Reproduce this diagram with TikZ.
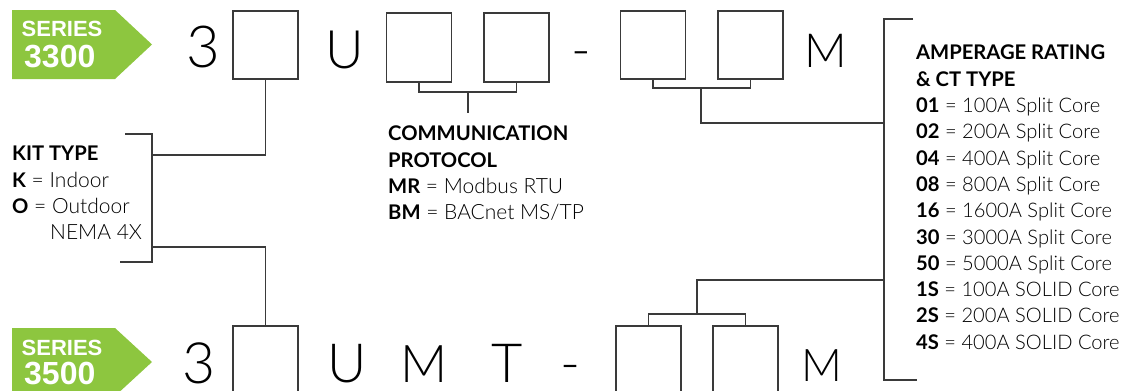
\documentclass[tikz,border=0pt]{standalone}
\usepackage{fontspec}
\setmainfont{Lato Light}[BoldFont=Lato Bold]
\newfontfamily\badgefont{Liberation Sans}
\definecolor{badgegreen}{HTML}{8DC63F}
\definecolor{linegray}{HTML}{3A3A3A}
\newcommand\kb[1]{{\fontsize{20.2}{26.3}\selectfont\bfseries #1}}
\begin{document}
\begin{tikzpicture}[x=1pt,y=-1pt,
  codebox/.style={draw=linegray,line width=1.3pt,minimum width=65pt,minimum height=68pt,inner sep=0pt},
  conn/.style={draw=linegray,line width=1.4pt},
  bigchar/.style={anchor=base west,inner sep=0pt,font=\fontsize{#1}{#1}\selectfont},
  legend/.style={anchor=north west,inner sep=0pt,align=left,font=\fontsize{#1}{26.3}\selectfont,text=black},
  legend/.default=21,
  badgetxt/.style={anchor=north west,inner sep=0pt,text=white,font=\badgefont\bfseries\fontsize{#1}{#1}\selectfont}
]
\useasboundingbox (0,0) rectangle (1125,391);
% badges
\fill[badgegreen] (12,10) -- (115,10) -- (152,44.5) -- (115,79) -- (12,79) -- cycle;
\fill[badgegreen] (12,328) -- (115,328) -- (152,362) -- (115,396) -- (12,396) -- cycle;
\node[badgetxt=22] (s1a) at (21.5,21) {SERIES};
\node[badgetxt=32] (s1b) at (24,45) {3300};
\node[badgetxt=22] (s2a) at (21.5,340) {SERIES};
\node[badgetxt=32] (s2b) at (24,362) {3500};
% top row
\node[bigchar=58] (t3) at (186,67) {3};
\node[codebox] (b1) at (265.5,45) {};
\node[bigchar=53] (tU) at (325,68) {U};
\node[codebox,minimum height=69pt] (b2) at (419,47.5) {};
\node[codebox,minimum height=69pt] (b3) at (516.5,47.5) {};
\node[bigchar=53] (tdash) at (571,68) {-};
\node[codebox] (b4) at (653,45) {};
\node[codebox] (b5) at (750.5,45) {};
\node[bigchar=47] (tM) at (804,67) {M};
% bottom row
\node[bigchar=57] (u3) at (182,383) {3};
\node[codebox] (c1) at (265.5,360) {};
\node[bigchar=54] (uU) at (327,382) {U};
\node[bigchar=52] (uM) at (400,382) {M};
\node[bigchar=54] (uT) at (491,382) {T};
\node[bigchar=54] (udash) at (560,382) {-};
\node[codebox] (c2) at (648.5,360) {};
\node[codebox] (c3) at (745.5,360) {};
\node[bigchar=45] (uM2) at (801,381) {M};
% legends
\node[legend] (kit) at (12,146) {\kb{KIT TYPE}\\\kb{K} = Indoor\\\kb{O} = Outdoor\\\hspace*{38pt}NEMA 4X};
\node[legend] (comm) at (388,126) {\kb{COMMUNICATION}\\\kb{PROTOCOL}\\\kb{MR} = Modbus RTU\\\kb{BM} = BACnet MS/TP};
\node[legend=20.1] (amp) at (916,45) {\kb{AMPERAGE RATING}\\\kb{\& CT TYPE}\\\kb{01} = 100A Split Core\\\kb{02} = 200A Split Core\\\kb{04} = 400A Split Core\\\kb{08} = 800A Split Core\\\kb{16} = 1600A Split Core\\\kb{30} = 3000A Split Core\\\kb{50} = 5000A Split Core\\\kb{1S} = 100A SOLID Core\\\kb{2S} = 200A SOLID Core\\\kb{4S} = 400A SOLID Core};
% kit bracket
\coordinate (kt) at (152,134);
\coordinate (kb) at (152,262);
\draw[conn] (125,134) -- (kt) -- (kb) -- (120,262);
\draw[conn] (b1.south) |- (152,155);
\draw[conn] (c1.north) |- (152,247);
% comm bracket
\draw[conn] (b2.south) |- (468,92) -| (b3.south);
\draw[conn] (468,92) -- (468,113);
% amp bracket
\coordinate (at) at (884,19);
\coordinate (ab) at (884,380);
\draw[conn] (913,19) -- (at) -- (ab) -- (917,380);
\draw[conn] (b4.south) |- (701,88) -| (b5.south);
\draw[conn] (701,88) |- (884,123);
\draw[conn] (c2.north) |- (697,314) -| (c3.north);
\draw[conn] (697,314) |- (884,280);
\end{tikzpicture}
\end{document}
